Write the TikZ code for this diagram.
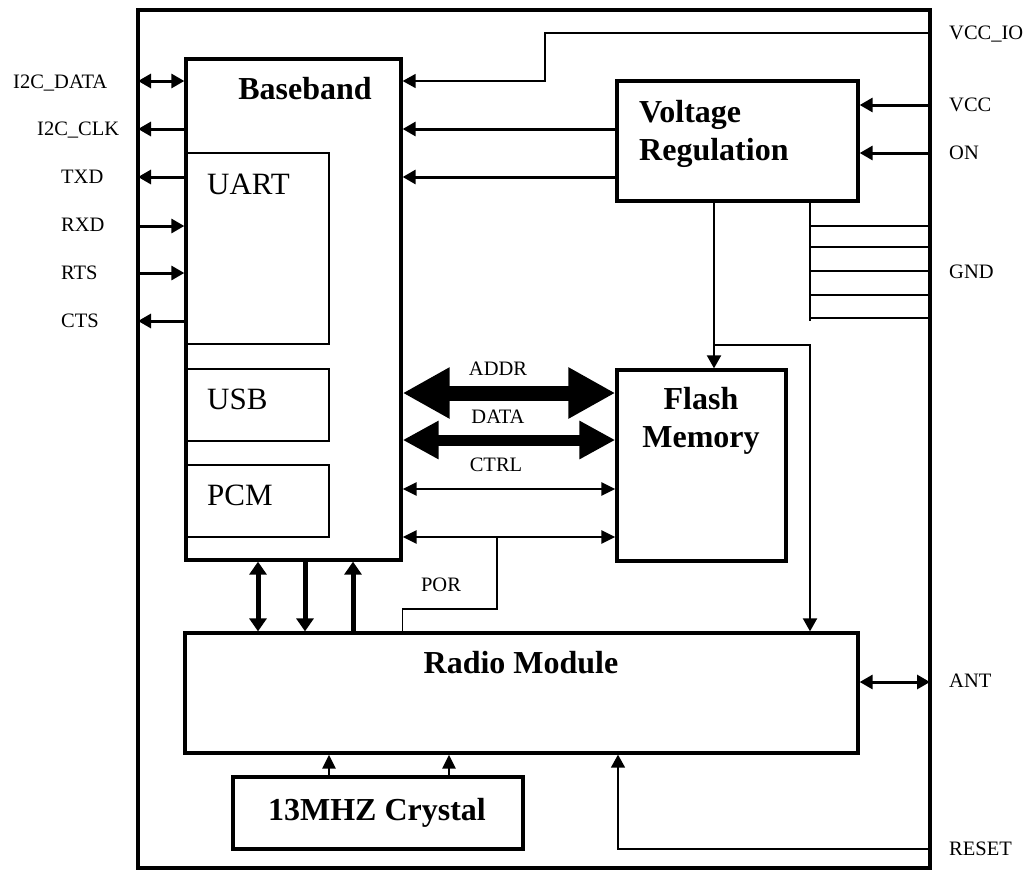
\documentclass[tikz,border=0pt]{standalone}
\usepackage{fontspec}
\setmainfont{Liberation Serif}
\usetikzlibrary{arrows.meta, positioning}

\begin{document}
\begin{tikzpicture}[x=1pt, y=-1pt,
	lbl/.style={font=\fontsize{20.5}{24}\selectfont, inner sep=0pt},
	ttl/.style={font=\fontsize{32}{36}\selectfont\bfseries, inner sep=0pt},
	subname/.style={font=\fontsize{31}{35}\selectfont, inner sep=0pt},
	blk/.style={draw, line width=3.3pt, inner sep=0pt},
	part/.style={draw, line width=1.5pt, inner sep=0pt},
	sig/.style={line width=3pt},
	wire/.style={line width=1.5pt},
	pwrline/.style={line width=2pt, >={Triangle[length=13pt,width=14pt]}},
	bbr/.style={line width=5pt, >={Triangle[length=13pt,width=17pt]}},
	ctl/.style={line width=2.5pt, >={Triangle[length=14pt,width=13pt]}},
	>={Triangle[length=13pt,width=14pt]}]
	\useasboundingbox (0,0) rectangle (1035,871);
	% blocks
	\node[draw, line width=4.5pt, minimum width=792pt, minimum height=858pt] (chip) at (534,439) {};
	\node[blk, minimum width=215pt, minimum height=501pt] (bb) at (293.5,309.5) {};
	\node[part, minimum width=143pt, minimum height=191pt] (uart) at (257.5,248.5) {};
	\node[part, minimum width=143pt, minimum height=72pt] (usb) at (257.5,405) {};
	\node[part, minimum width=143pt, minimum height=72pt] (pcm) at (257.5,501) {};
	\node[blk, minimum width=241pt, minimum height=120pt] (vr) at (737.5,141) {};
	\node[blk, minimum width=169pt, minimum height=191pt] (flash) at (701.5,465.5) {};
	\node[blk, minimum width=673pt, minimum height=120pt] (radio) at (521.5,693) {};
	\node[blk, minimum width=290pt, minimum height=72pt] (xtal) at (378,813) {};
	% block names
	\node[ttl, anchor=base] (bbname) at (305,99) {Baseband};
	\node[subname, anchor=base west] (uartname) at (207,194) {UART};
	\node[subname, anchor=base west] (usbname) at (207,409) {USB};
	\node[subname, anchor=base west] (pcmname) at (207,505) {PCM};
	\node[ttl, anchor=base west] (vrname) at (639,122) {Voltage};
	\node[ttl, anchor=base west] (vrname2) at (639,160) {Regulation};
	\node[ttl, anchor=base] (flname) at (701,409) {Flash};
	\node[ttl, anchor=base] (flname2) at (701,447) {Memory};
	\node[ttl, anchor=base] (radioname) at (521,673) {Radio Module};
	\node[ttl, anchor=base] (xtalname) at (377,820) {13MHZ Crystal};
	% left pins
	\coordinate (pi2cd) at (138,81);
	\coordinate (pi2cc) at (138,129);
	\coordinate (ptxd) at (138,177);
	\coordinate (prxd) at (138,226);
	\coordinate (prts) at (138,273);
	\coordinate (pcts) at (138,321);
	\draw[sig,<->] (pi2cd) -- (pi2cd -| bb.west);
	\draw[sig,->] (pi2cc -| bb.west) -- (pi2cc);
	\draw[sig,->] (ptxd -| bb.west) -- (ptxd);
	\draw[sig,->] (prxd) -- (prxd -| bb.west);
	\draw[sig,->] (prts) -- (prts -| bb.west);
	\draw[sig,->] (pcts -| bb.west) -- (pcts);
	\node[lbl, anchor=base west] (li2cd) at (13,88) {I2C\_DATA};
	\node[lbl, anchor=base west] (li2cc) at (37,135) {I2C\_CLK};
	\node[lbl, anchor=base west] (ltxd) at (61,183) {TXD};
	\node[lbl, anchor=base west] (lrxd) at (61,231) {RXD};
	\node[lbl, anchor=base west] (lrts) at (61,279) {RTS};
	\node[lbl, anchor=base west] (lcts) at (61,327) {CTS};
	% power
	\coordinate (pvio) at (930,33);
	\coordinate (viobend) at (545,33);
	\coordinate (pvcc) at (930,105);
	\coordinate (pon) at (930,153);
	\coordinate (gndbus) at (810,321);
	\coordinate (pwr) at (714,345);
	\draw[wire,->] (pvio) -- (viobend) |- (bb.east |- pi2cd);
	\draw[sig,->] (vr.west |- pi2cc) -- (bb.east |- pi2cc);
	\draw[sig,->] (vr.west |- ptxd) -- (bb.east |- ptxd);
	\draw[sig,->] (pvcc) -- (pvcc -| vr.east);
	\draw[sig,->] (pon) -- (pon -| vr.east);
	\draw[wire] (vr.south -| gndbus) -- (gndbus);
	\foreach \yy in {226,247,271,295,318}
	\draw[wire] (810,\yy) -- (930,\yy);
	\draw[pwrline,->] (vr.south -| pwr) -- (flash.north -| pwr);
	\draw[pwrline,->] (pwr) -| (radio.north -| gndbus);
	\node[lbl, anchor=base west] (lvio) at (949,39) {VCC\_IO};
	\node[lbl, anchor=base west] (lvcc) at (949,111) {VCC};
	\node[lbl, anchor=base west] (lon) at (949,159) {ON};
	\node[lbl, anchor=base west] (lgnd) at (949,278) {GND};
	% memory bus
	\coordinate (yaddr) at (0,393);
	\coordinate (ydata) at (0,440);
	\coordinate (yctrl) at (0,489);
	\coordinate (ypor) at (0,537);
	\draw[line width=15pt, {Triangle[length=47pt,width=48pt]}-{Triangle[length=47pt,width=48pt]}]
	(bb.east |- yaddr) -- (flash.west |- yaddr);
	\draw[line width=11pt, {Triangle[length=36pt,width=36pt]}-{Triangle[length=36pt,width=36pt]}]
	(bb.east |- ydata) -- (flash.west |- ydata);
	\draw[ctl,<->] (bb.east |- yctrl) -- (flash.west |- yctrl);
	\draw[ctl,<->] (bb.east |- ypor) -- (flash.west |- ypor);
	\node[lbl, anchor=base] (laddr) at (498,375) {ADDR};
	\node[lbl, anchor=base] (ldata) at (498,423) {DATA};
	\node[lbl, anchor=base] (lctrl) at (496,471) {CTRL};
	% POR
	\coordinate (porbend) at (497,609);
	\draw[wire] (radio.north -| bb.east) |- (porbend) -- (porbend |- ypor);
	\node[lbl, anchor=base] (lpor) at (441,591) {POR};
	% baseband <-> radio
	\coordinate (c1) at (258,0);
	\coordinate (c2) at (305,0);
	\coordinate (c3) at (353,0);
	\draw[bbr,<->] (bb.south -| c1) -- (radio.north -| c1);
	\draw[bbr,->] (bb.south -| c2) -- (radio.north -| c2);
	\draw[bbr,<-] (bb.south -| c3) -- (radio.north -| c3);
	% crystal, antenna, reset
	\coordinate (x1) at (329,0);
	\coordinate (x2) at (449,0);
	\draw[ctl,->] (xtal.north -| x1) -- (radio.south -| x1);
	\draw[ctl,->] (xtal.north -| x2) -- (radio.south -| x2);
	\coordinate (pant) at (930,682);
	\coordinate (prst) at (930,849);
	\coordinate (rstx) at (618,0);
	\draw[sig,<->] (pant -| radio.east) -- (pant);
	\draw[wire,->] (prst) -| (radio.south -| rstx);
	\node[lbl, anchor=base west] (lant) at (949,687) {ANT};
	\node[lbl, anchor=base west] (lrst) at (949,855) {RESET};
\end{tikzpicture}
\end{document}
